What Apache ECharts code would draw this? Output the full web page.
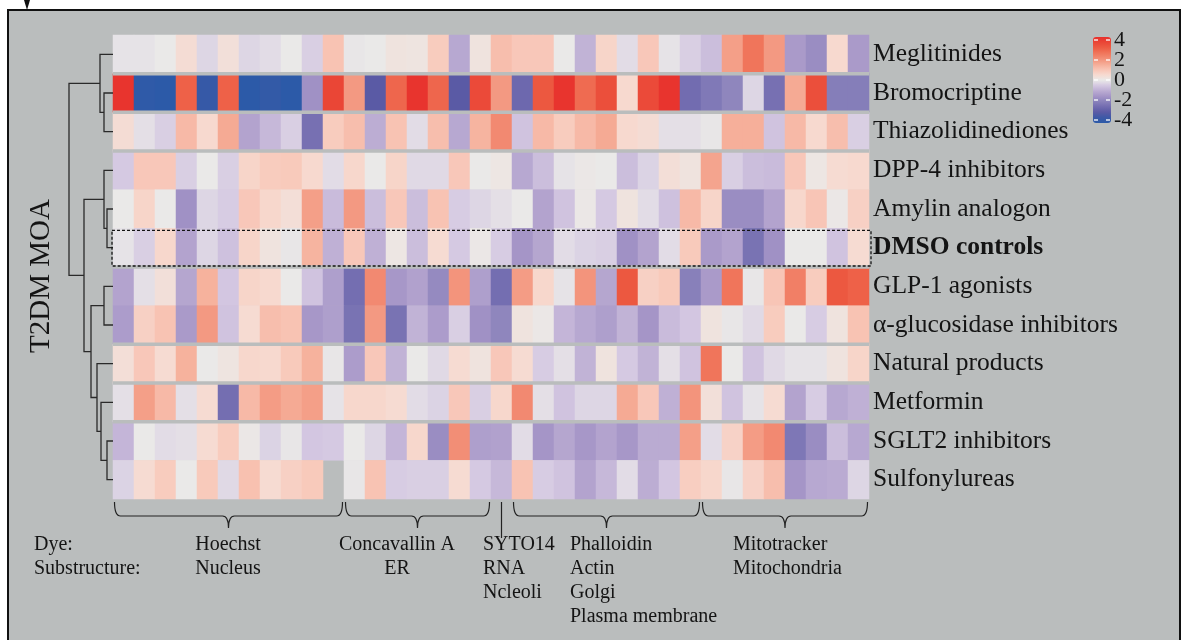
<!DOCTYPE html>
<html>
<head>
<meta charset="utf-8">
<script src="https://cdn.jsdelivr.net/npm/echarts@6/dist/echarts.min.js"></script>
<style>
  html, body { margin: 0; padding: 0; background: #fff; overflow: hidden; }
  #frame { position: absolute; left: 7px; top: 9px; width: 1170px; height: 700px;
           border: 2px solid #111; background: #babdbd; }
  #chart { position: absolute; left: 0; top: 0; width: 1182px; height: 640px; }
</style>
</head>
<body>
<div id="frame"></div>
<div id="chart"></div>
<script>
// row labels (top to bottom, dendrogram order)
var drugs = ['Meglitinides', 'Bromocriptine', 'Thiazolidinediones', 'DPP-4 inhibitors',
  'Amylin analogon', 'DMSO controls', 'GLP-1 agonists', 'α-glucosidase inhibitors',
  'Natural products', 'Metformin', 'SGLT2 inhibitors', 'Sulfonylureas'];

// column groups: dye / substructure, number of features in each
var dyes = ['Hoechst', 'Concavallin A', 'SYTO14', 'Phalloidin', 'Mitotracker'];
var substructures = [['Nucleus'], ['ER'], ['RNA', 'Ncleoli'], ['Actin', 'Golgi', 'Plasma membrane'], ['Mitochondria']];
var groupSizes = [11, 7, 1, 9, 8];

// z-scores per row, 36 features
var meglitinides = [-0.1,-0.1,0,0.4,-0.3,0.3,-0.3,-0.2,0,-0.4,1.0,-0.05,0,0.2,0.15,0.8,-1.1,0.2,1.1,0.9,0.9,0,-0.9,0.6,-0.2,0.9,-0.1,-0.4,-0.7,1.7,2.5,1.8,-1.4,-1.7,0.5,-1.4];
var bromocriptine = [3.9,-3.9,-4,2.9,-3.7,2.9,-4,-3.8,-4,-1.6,3.5,1.8,-3.0,2.8,3.9,2.8,-3.0,3.4,1.8,-2.6,3.1,3.9,2.7,3.3,0.5,3.4,3.9,-2.5,-2.2,-1.9,-0.3,-2.4,1.5,3.3,-2.1,-2.1];
var thiazolidinediones = [0.4,-0.15,-0.4,1.2,0.5,1.5,-1.2,-0.8,-0.4,-2.4,0.8,1.1,-1.0,1.0,-0.2,1.1,-1.1,1.3,2.1,-0.6,1.2,0.8,1.2,1.5,0.5,0.4,-0.15,-0.15,-0.05,1.4,1.4,-0.6,1.2,0.5,1.1,-0.4];
var dpp4 = [-0.5,0.9,0.9,-0.4,0,-0.4,0.6,0.8,0.85,0.5,-0.2,0.55,0,0.6,-0.25,-0.25,0.9,0,0.1,-1.1,-0.7,-0.1,0.05,0,-0.7,-0.35,0.35,0.2,1.6,-0.4,-0.7,-0.75,0.9,0.1,0.45,0.5];
var amylin = [0,0.6,0,-1.6,-0.3,-0.45,0.9,0.55,0.35,1.7,-0.75,1.8,-0.7,0.9,-0.7,1.0,-0.45,-0.3,-0.15,0,-1.2,-0.6,0.05,-0.5,0.2,-0.2,-0.65,1.2,0.6,-1.7,-1.7,-1.2,0.55,0.95,0.05,0.7];
var dmso = [-0.1,-0.4,0.55,-1.2,-0.3,-0.65,0.6,0.2,-0.05,1.3,-0.95,0.9,-0.95,0.1,-0.7,0.45,-0.5,0.05,-0.45,-1.5,-1.15,-0.2,-0.35,-0.4,-1.6,-1.2,-0.2,0.85,-1.4,-1.2,-2.35,-1.6,0,0,-0.6,0.45];
var glp1 = [-1.2,-0.15,0.3,-1.15,1.35,-0.55,0.6,0.5,0,-0.6,-1.3,-2.45,2.1,-1.45,-1.25,-1.8,1.9,-1.3,-2.45,1.75,0.55,-0.1,1.9,-1.15,3.1,0.7,0.85,-2.05,-1.4,2.5,-0.05,0.95,2.3,0.8,3.1,2.9];
var aGlucosidase = [-1.35,0.7,1.0,-1.4,1.8,-0.6,0.45,1.1,1.0,-1.45,-1.3,-2.35,1.8,-2.35,-0.9,-1.35,-0.4,-1.6,-1.9,0.2,0.05,-0.85,-1.1,-1.3,-0.9,-1.5,-0.75,-0.55,0.2,-0.05,-0.25,0.8,0,-0.45,0.2,1.0];
var natural = [0.35,0.9,0.45,1.35,0,0.15,0.55,0.5,0.85,1.35,-0.05,-1.35,0.9,-0.9,0,-0.25,0.45,0.2,0.9,0.45,-0.45,-0.15,-0.9,0.2,-0.5,-0.9,-0.15,-0.6,2.5,0,-0.6,-0.25,-0.1,-0.1,0.2,0.6];
var metformin = [-0.15,1.7,1.2,-0.15,0.45,-2.45,1.2,1.75,1.5,1.7,-0.1,0.55,0.55,0.45,-0.2,-0.35,0.9,-0.4,0.55,2.1,-0.15,-0.6,-0.3,-0.3,1.5,0.9,-0.95,1.9,0.3,-0.6,-0.1,0.45,-1.2,-0.45,-1.1,-0.95];
var sglt2 = [-0.85,0,-0.2,-0.15,0.45,0.8,0.05,-0.35,-0.05,-0.55,-0.5,0,-0.3,-0.85,0.55,-1.7,2.0,-1.3,-1.25,-0.2,-1.5,-1.15,-1.45,-1.2,-1.45,-1.05,-1.05,1.7,-0.2,0.65,1.75,2.1,-2.25,-1.7,-0.7,-1.1];
var sulfonylureas = [-0.35,0.45,0.8,0,0.85,-0.25,1.05,0.45,0.7,0.85,null,-0.05,1.0,-0.45,-0.4,-0.4,0.45,-0.5,-0.8,1.0,-0.45,-0.6,-1.2,-0.8,-0.2,-1.0,-0.55,0.75,0.55,-0.05,0.65,1.1,-1.5,-1.1,-1.05,-0.3];

var rows = [meglitinides, bromocriptine, thiazolidinediones, dpp4, amylin, dmso,
  glp1, aGlucosidase, natural, metformin, sglt2, sulfonylureas];

// rows after which the heatmap shows a thin gap
var gapAfter = [0, 1, 2, 5, 7, 8, 9];

// hierarchical clustering: [childA, childB, height]; ids >= 12 are earlier merges
var links = [[1,2,9],[0,12,13],[4,5,6],[3,14,9],[6,7,9],[10,11,6],[9,17,12],[8,18,16],[16,19,22],[15,20,29],[13,21,44]];

// colour scale ticks
var scaleTicks = [4, 2, 0, -2, -4];

var serif = '"Liberation Serif", "DejaVu Serif", serif';
var ink = '#141414';
var bg = '#babdbd';

var nCols = meglitinides.length;
var cols = [];
for (var c = 0; c < nCols; c++) cols.push('f' + (c + 1));

var heat = [];
rows.forEach(function (r, ri) {
  r.forEach(function (v, ci) { heat.push([ci, ri, v == null ? '-' : v]); });
});

// dendrogram segments
var nodeY = drugs.map(function (d, i) { return i; });
var nodeH = drugs.map(function () { return 0; });
var dendro = [];
links.forEach(function (l) {
  var a = l[0], b = l[1];
  dendro.push([nodeY[a], nodeY[b], nodeH[a], nodeH[b], l[2]]);
  nodeY.push((nodeY[a] + nodeY[b]) / 2);
  nodeH.push(l[2]);
});

// first / last column of each dye group
var groupSpans = [];
var start = 0;
groupSizes.forEach(function (n) { groupSpans.push([start, start + n - 1]); start += n; });

var vMin = Math.min.apply(null, scaleTicks), vMax = Math.max.apply(null, scaleTicks);

var chart = echarts.init(document.getElementById('chart'), null, { renderer: 'canvas' });

var option = {
  backgroundColor: 'transparent',
  animation: false,
  grid: [
    { left: 113, top: 35, width: 756, height: 464 },
    { left: 66, top: 35, width: 47, height: 464 },
    { left: 1093, top: 40, width: 18, height: 80 }
  ],
  xAxis: [
    { type: 'category', data: cols, gridIndex: 0, show: false },
    { type: 'value', gridIndex: 1, min: 0, max: 47, inverse: true, show: false },
    { type: 'value', gridIndex: 2, show: false, min: 0, max: 1 }
  ],
  yAxis: [
    { type: 'category', data: drugs, gridIndex: 0, inverse: true, position: 'right',
      axisLine: { show: false }, axisTick: { show: false },
      axisLabel: { margin: 4, fontSize: 25.5, fontFamily: serif, color: ink,
        formatter: function (v) { return v === 'DMSO controls' ? '{b|' + v + '}' : v; },
        rich: { b: { fontSize: 25.5, fontFamily: serif, fontWeight: 'bold', color: ink } } } },
    { type: 'value', gridIndex: 1, min: -0.5, max: 11.5, inverse: true, show: false },
    { type: 'value', gridIndex: 2, min: vMin, max: vMax, show: false }
  ],
  visualMap: {
    type: 'continuous', min: vMin, max: vMax, seriesIndex: 0, dimension: 2,
    calculable: false, orient: 'vertical', left: 1093, top: 37, padding: 0,
    itemWidth: 18, itemHeight: 86, z: 1,
    inRange: { color: ['#2c5aa8', '#3d59a6', '#5a5aa5', '#726cb0', '#8a82bb', '#a595c7', '#bcadd3',
      '#d5c9e2', '#eae9e8', '#f7d9cf', '#f8c3b3', '#f5aa94', '#f28e76', '#f0755b', '#ed5c43', '#ea4636', '#e8302c'] }
  },
  series: [
    { type: 'heatmap', xAxisIndex: 0, yAxisIndex: 0, data: heat, itemStyle: { borderWidth: 0 } },
    { type: 'custom', xAxisIndex: 0, yAxisIndex: 0, silent: true, z: 3,
      data: gapAfter.map(function (r) { return [0, r]; }),
      renderItem: function (params, api) {
        var p = api.coord([0, api.value(1)]);
        var s = api.size([1, 1]);
        var cs = params.coordSys;
        return { type: 'rect', shape: { x: cs.x, y: p[1] + s[1] / 2 - 1.75, width: cs.width, height: 3.5 },
          style: { fill: bg } };
      } },
    { type: 'custom', xAxisIndex: 0, yAxisIndex: 0, silent: true, z: 4,
      data: [[0, drugs.indexOf('DMSO controls')]],
      renderItem: function (params, api) {
        var p = api.coord([0, api.value(1)]);
        var s = api.size([1, 1]);
        var cs = params.coordSys;
        return { type: 'rect', shape: { x: cs.x - 1, y: p[1] - s[1] / 2 + 2, width: cs.width + 3, height: s[1] - 3 },
          style: { fill: 'none', stroke: ink, lineWidth: 1.3, lineDash: [3, 2] } };
      } },
    { type: 'custom', xAxisIndex: 1, yAxisIndex: 1, silent: true,
      encode: { x: [2, 3, 4], y: [0, 1] },
      data: dendro,
      renderItem: function (params, api) {
        var yA = api.value(0), yB = api.value(1), hA = api.value(2), hB = api.value(3), h = api.value(4);
        return { type: 'polyline',
          shape: { points: [api.coord([hA, yA]), api.coord([h, yA]), api.coord([h, yB]), api.coord([hB, yB])] },
          style: { stroke: '#2a2a2a', lineWidth: 1.3, fill: 'none' } };
      } },
    // curly braces under the dye groups
    { type: 'custom', xAxisIndex: 0, yAxisIndex: 0, silent: true, clip: false,
      encode: { x: [0, 1] },
      data: groupSpans,
      renderItem: function (params, api) {
        var s = api.size([1, 1]);
        var cs = params.coordSys;
        var left = api.coord([api.value(0), 0])[0] - s[0] / 2;
        var right = api.coord([api.value(1), 0])[0] + s[0] / 2;
        var bottom = cs.y + cs.height;
        var y0 = bottom + 3, y1 = bottom + 17, y2 = bottom + 29;
        var xm = (left + right) / 2, path;
        if (api.value(0) === api.value(1)) {
          path = 'M' + xm + ',' + y0 + 'L' + xm + ',' + (y2 + 10);
        } else {
          var x0 = left + 1.5, x1 = right - 1.5, r = 6;
          path = 'M' + x0 + ',' + y0 + 'Q' + x0 + ',' + y1 + ' ' + (x0 + r) + ',' + y1 +
            'L' + (xm - r) + ',' + y1 + 'Q' + xm + ',' + y1 + ' ' + xm + ',' + y2 +
            'M' + xm + ',' + y2 + 'Q' + xm + ',' + y1 + ' ' + (xm + r) + ',' + y1 +
            'L' + (x1 - r) + ',' + y1 + 'Q' + x1 + ',' + y1 + ' ' + x1 + ',' + y0;
        }
        return { type: 'path', shape: { pathData: path },
          style: { fill: 'none', stroke: '#222', lineWidth: 1.2 } };
      } },
    // colour scale ticks and labels
    { type: 'custom', xAxisIndex: 2, yAxisIndex: 2, silent: true, clip: false, z: 5,
      encode: { y: 1 },
      data: scaleTicks.map(function (t) { return [0, t]; }),
      renderItem: function (params, api) {
        var cs = params.coordSys;
        var y = api.coord([0, api.value(1)])[1];
        return { type: 'group', children: [
          { type: 'line', shape: { x1: cs.x + 1, y1: y, x2: cs.x + 5, y2: y }, style: { stroke: '#fff', lineWidth: 1.3 } },
          { type: 'line', shape: { x1: cs.x + cs.width - 5, y1: y, x2: cs.x + cs.width - 1, y2: y }, style: { stroke: '#fff', lineWidth: 1.3 } },
          { type: 'text', x: cs.x + cs.width + 3, y: y,
            style: { text: String(api.value(1)), font: '22px ' + serif, fill: ink, textAlign: 'left', textVerticalAlign: 'middle' } }
        ] };
      } }
  ]
};

// dye / substructure labels below the columns
var graphics = [];
var labelX = [228, 397, 483, 570, 733];
var labelAlign = ['center', 'center', 'left', 'left', 'left'];
var lineY = 545, lineGap = 24;
function addText(t, x, y, align) {
  graphics.push({ type: 'text', x: x, y: y, silent: true,
    style: { text: t, font: '20px ' + serif, fill: ink, textAlign: align, textVerticalAlign: 'middle' } });
}
addText('Dye:', 34, lineY, 'left');
addText('Substructure:', 34, lineY + lineGap, 'left');
dyes.forEach(function (d, i) {
  addText(d, labelX[i], lineY, labelAlign[i]);
  substructures[i].forEach(function (s, j) {
    addText(s, labelX[i], lineY + lineGap * (j + 1), labelAlign[i]);
  });
});

graphics.push({ type: 'text', x: 41, y: 276, rotation: Math.PI / 2, silent: true,
  style: { text: 'T2DM MOA', font: '29px ' + serif, fill: ink, textAlign: 'center', textVerticalAlign: 'middle' } });

graphics.push({ type: 'polygon', silent: true, shape: { points: [[24, 0], [30, 0], [27, 10]] },
  style: { fill: '#111' } });

option.graphic = graphics;
chart.setOption(option);
</script>
</body>
</html>
